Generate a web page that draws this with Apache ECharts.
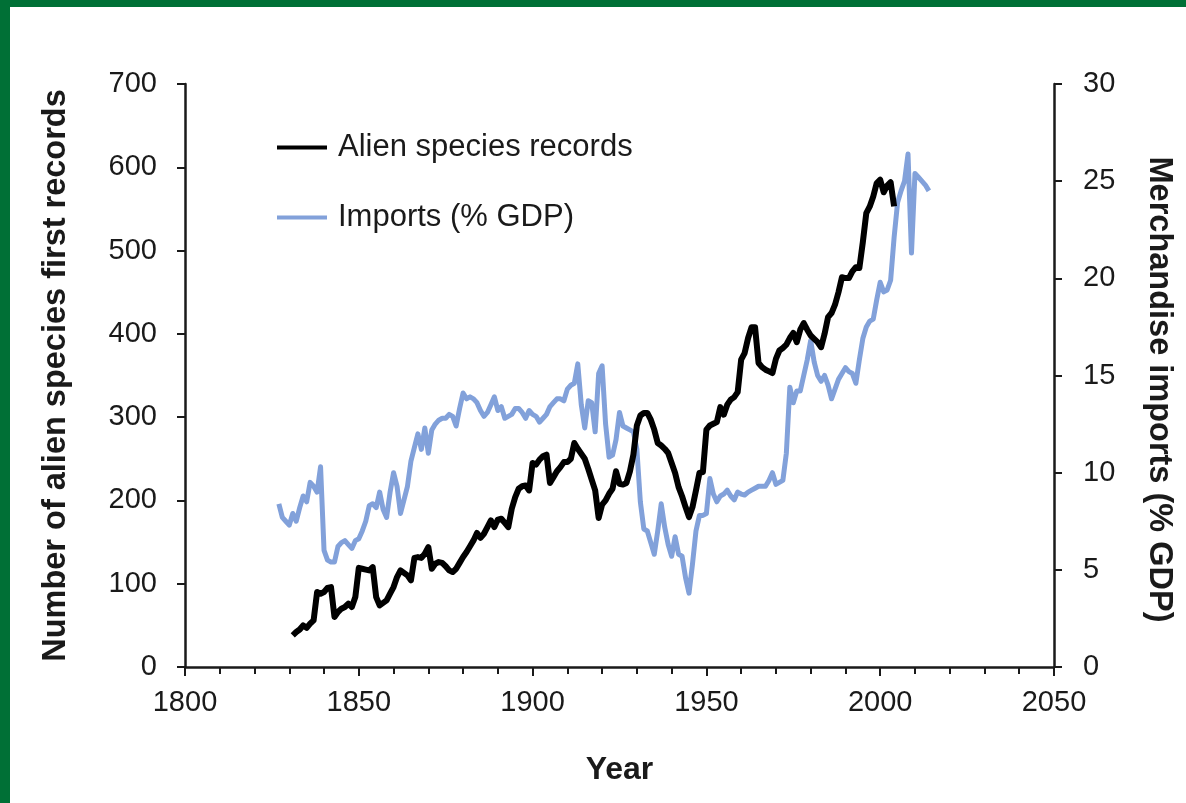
<!DOCTYPE html>
<html>
<head>
<meta charset="utf-8">
<script src="https://cdn.jsdelivr.net/npm/echarts@6/dist/echarts.min.js"></script>
<style>
  html, body { margin: 0; padding: 0; background: #fff; }
  #chart { position: absolute; left: 0; top: 0; width: 1186px; height: 803px; }
  .frame-top { position: absolute; left: 0; top: 0; width: 1186px; height: 7px; background: #007036; }
  .frame-left { position: absolute; left: 0; top: 0; width: 10px; height: 803px; background: #007036; }
</style>
</head>
<body>
<div id="chart"></div>
<div class="frame-top"></div>
<div class="frame-left"></div>
<script>
// alien species first records per year (left axis), starting 1831
const alienStart = 1831;
const alienCounts = [
  38, 42, 45, 50, 47, 52, 56, 90, 88, 90,
  95, 96, 60, 66, 70, 72, 76, 72, 84, 119,
  118, 117, 116, 120, 84, 74, 77, 80, 88, 96,
  108, 116, 113, 110, 104, 131, 132, 131, 136, 144,
  118, 124, 126, 125, 121, 116, 114, 118, 125, 132,
  138, 145, 152, 161, 155, 160, 168, 176, 168, 177,
  178, 173, 168, 190, 204, 214, 217, 218, 212, 245,
  243, 249, 253, 255, 221, 228, 235, 240, 246, 246,
  250, 269, 262, 256, 250, 238, 225, 212, 179, 195,
  200, 208, 214, 235, 220, 219, 221, 235, 255, 290,
  302, 305, 305, 297, 285, 269, 266, 262, 257, 245,
  233, 216, 205, 192, 180, 192, 212, 233, 234, 285,
  290, 292, 294, 312, 303, 315, 321, 324, 330, 369,
  377, 395, 408, 408, 365, 360, 357, 355, 353, 370,
  380, 383, 387, 395, 401, 390, 405, 413, 405, 398,
  394, 390, 384, 400, 420, 425, 435, 450, 468, 467,
  467, 475, 480, 479, 510, 545, 553, 565, 581, 585,
  570, 578, 582, 553
];

// merchandise imports as % of GDP (right axis), starting 1827
const importStart = 1827;
const importShares = [
  8.4, 7.7, 7.5, 7.3, 7.9, 7.5, 8.2, 8.8, 8.5, 9.5,
  9.3, 9.0, 10.3, 6.0, 5.5, 5.4, 5.4, 6.2, 6.4, 6.5,
  6.3, 6.1, 6.5, 6.6, 7.0, 7.5, 8.3, 8.4, 8.2, 9.0,
  8.1, 7.7, 9.0, 10.0, 9.3, 7.9, 8.6, 9.3, 10.6, 11.3,
  12.0, 11.2, 12.3, 11.0, 12.2, 12.5, 12.7, 12.8, 12.8, 13.0,
  12.9, 12.4, 13.3, 14.1, 13.8, 13.9, 13.8, 13.6, 13.2, 12.9,
  13.1, 13.5, 13.9, 13.2, 13.4, 12.8, 12.9, 13.0, 13.3, 13.3,
  13.1, 12.8, 13.2, 13.0, 12.9, 12.6, 12.8, 13.0, 13.4, 13.6,
  13.8, 13.8, 13.7, 14.3, 14.5, 14.6, 15.6, 13.5, 12.3, 13.7,
  13.6, 12.1, 15.1, 15.5, 12.5, 10.8, 10.9, 11.7, 13.1, 12.4,
  12.3, 12.2, 12.1, 11.2, 8.5, 7.1, 7.0, 6.4, 5.8, 7.0,
  8.4, 7.2, 6.3, 5.7, 6.7, 5.8, 5.7, 4.6, 3.8, 5.3,
  7.0, 7.8, 7.8, 7.9, 9.7, 8.9, 8.5, 8.8, 8.9, 9.1,
  8.8, 8.6, 9.0, 8.9, 8.85, 9.0, 9.1, 9.2, 9.3, 9.3,
  9.3, 9.6, 10.0, 9.4, 9.5, 9.6, 11.0, 14.4, 13.6, 14.2,
  14.2, 15.0, 15.8, 16.8, 15.7, 15.0, 14.7, 15.0, 14.5, 13.8,
  14.3, 14.8, 15.1, 15.4, 15.2, 15.1, 14.6, 15.8, 16.9, 17.5,
  17.8, 17.9, 18.9, 19.8, 19.3, 19.4, 19.9, 22.1, 23.9, 24.5,
  25.0, 26.4, 21.3, 25.4, 25.2, 25.0, 24.8, 24.5
];

const seriesNames = ['Alien species records', 'Imports (% GDP)'];
const yearTicks = [1800, 2050];

const alienData = alienCounts.map((v, i) => [alienStart + i, v]);
const importData = importShares.map((v, i) => [importStart + i, v]);

const ink = '#1a1a1a';
const font = '"Liberation Sans", Arial, sans-serif';

const chart = echarts.init(document.getElementById('chart'));
chart.setOption({
  animation: false,
  backgroundColor: '#fff',
  textStyle: { fontFamily: font },
  grid: { left: 185, right: 132, top: 84, bottom: 136 },
  legend: {
    left: 277,
    top: 132,
    padding: 0,
    orient: 'vertical',
    icon: 'rect',
    itemWidth: 50,
    itemHeight: 4,
    itemGap: 39,
    data: seriesNames,
    textStyle: { fontSize: 31, color: ink, fontFamily: font, padding: [0, 0, 0, 6] }
  },
  xAxis: {
    type: 'value',
    min: yearTicks[0],
    max: yearTicks[1],
    interval: 50,
    name: 'Year',
    nameLocation: 'middle',
    nameGap: 87,
    nameTextStyle: { fontSize: 32, fontWeight: 'bold', color: ink, fontFamily: font },
    axisLine: { lineStyle: { color: ink, width: 2.5 } },
    axisTick: { show: true, inside: false, length: 9, lineStyle: { color: ink, width: 2 } },
    minorTick: { show: true, splitNumber: 5, length: 7, lineStyle: { color: ink, width: 2 } },
    axisLabel: { fontSize: 29, color: ink, margin: 21, formatter: v => String(v) },
    splitLine: { show: false }
  },
  yAxis: [
    {
      type: 'value',
      min: 0,
      max: 700,
      interval: 100,
      position: 'left',
      name: 'Number of alien species first records',
      nameLocation: 'middle',
      nameGap: 112,
      nameTextStyle: { fontSize: 32.5, fontWeight: 'bold', color: ink, fontFamily: font },
      axisLine: { show: true, lineStyle: { color: ink, width: 2.5 } },
      axisTick: { show: true, inside: false, length: 8, lineStyle: { color: ink, width: 2 } },
      axisLabel: { fontSize: 29, color: ink, margin: 28 },
      splitLine: { show: false }
    },
    {
      type: 'value',
      min: 0,
      max: 30,
      interval: 5,
      position: 'right',
      name: 'Merchandise imports (% GDP)',
      nameLocation: 'middle',
      nameGap: 88,
      nameRotate: -90,
      nameTextStyle: { fontSize: 32.5, fontWeight: 'bold', color: ink, fontFamily: font, padding: [0, 0, 0, 28] },
      axisLine: { show: true, lineStyle: { color: ink, width: 2.5 } },
      axisTick: { show: true, inside: false, length: 8, lineStyle: { color: ink, width: 2 } },
      axisLabel: { fontSize: 29, color: ink, margin: 29 },
      splitLine: { show: false }
    }
  ],
  series: [
    {
      name: seriesNames[1],
      type: 'line',
      yAxisIndex: 1,
      data: importData,
      showSymbol: false,
      color: '#82a1da',
      lineStyle: { width: 5, color: '#82a1da', join: 'round' },
      z: 2
    },
    {
      name: seriesNames[0],
      type: 'line',
      yAxisIndex: 0,
      data: alienData,
      showSymbol: false,
      color: '#000',
      lineStyle: { width: 6, color: '#000', join: 'round' },
      z: 3
    }
  ]
});
</script>
</body>
</html>
